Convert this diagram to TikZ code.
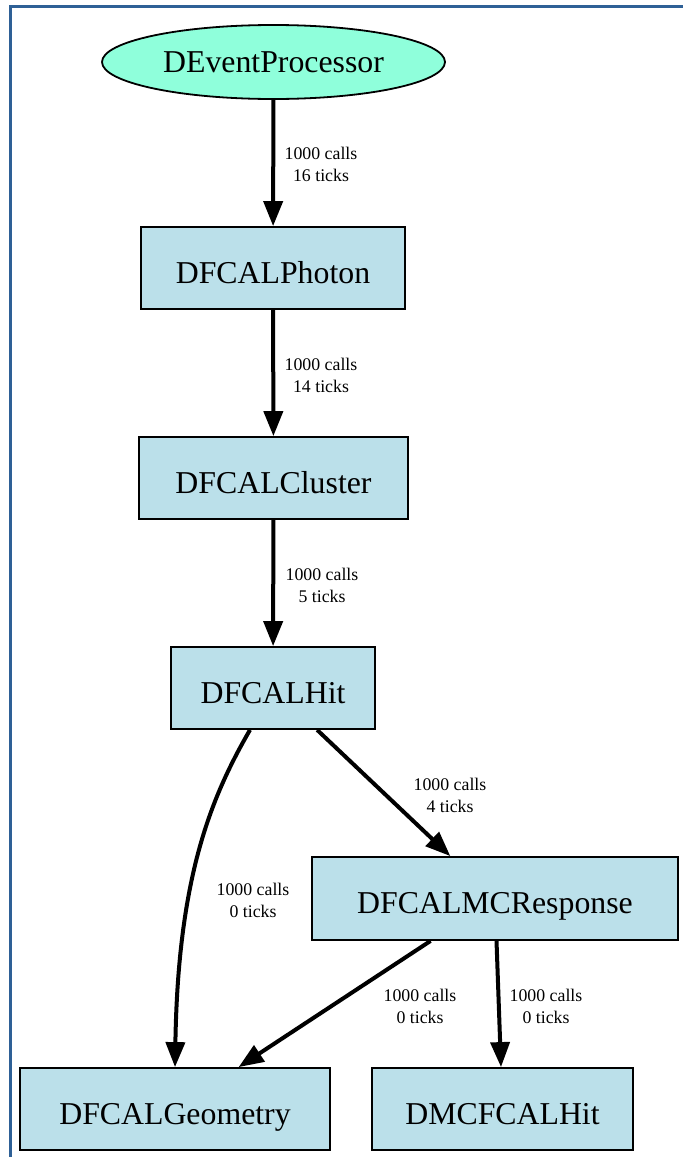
\documentclass[tikz,border=0pt]{standalone}
\usepackage{fontspec}
\setmainfont{Liberation Serif}
\usepackage{xcolor}
\usetikzlibrary{arrows.meta,shapes.geometric}
\definecolor{framblue}{RGB}{46,96,150}
\definecolor{boxblue}{RGB}{187,224,234}
\definecolor{procgreen}{RGB}{143,255,219}

\begin{document}
\begin{tikzpicture}[x=0.5pt,y=-0.5pt,
    fac/.style={draw, line width=0.9pt, fill=boxblue, minimum height=41pt, inner sep=0pt,
                text height=15pt, text depth=0pt, font=\fontsize{15.9}{19}\selectfont},
    proc/.style={draw, ellipse, line width=0.9pt, fill=procgreen, minimum width=171.5pt,
                 minimum height=37pt, inner sep=0pt, font=\fontsize{15.9}{19}\selectfont},
    calls/.style={align=center, inner sep=0pt, font=\fontsize{8.9}{11}\selectfont},
    dep/.style={line width=2pt, -{Triangle[length=12.5pt,width=9.5pt]}}]
                \useasboundingbox (0,0) rectangle (683,1157);
                \clip (0,0) rectangle (683,1157);
                \draw[framblue, line width=1.5pt](10,6) rectangle (720,1200);
                % factories
                \node[proc] (evproc) at (273.5,62) {DEventProcessor};
                \node[fac, minimum width=132pt] (photon) at (273,268) {DFCALPhoton};
                \node[fac, minimum width=134.5pt] (cluster) at (273.5,478) {DFCALCluster};
                \node[fac, minimum width=102pt] (hit) at (273,688) {DFCALHit};
                \node[fac, minimum width=183pt, minimum height=41.5pt] (mcresp) at (495,898.5) {DFCALMCResponse};
                \node[fac, minimum width=155pt] (geom) at (175,1109) {DFCALGeometry};
                \node[fac, minimum width=130.5pt] (mchit) at (502.5,1109) {DMCFCALHit};
                % calls between them
                \draw[dep](evproc) -- (photon);
                \draw[dep](photon) -- (cluster);
                \draw[dep](cluster) -- (hit);
                \draw[dep](hit) -- (mcresp);
                \draw[dep]([xshift=-11.5pt]hit.south) .. controls +(-40,69) and +(3,-188) .. (geom.north);
                \draw[dep](mcresp) -- (geom);
                \draw[dep](mcresp) -- (mchit);
                \node[calls] (c1) at (321,164) {1000 calls\\16 ticks};
                \node[calls] (c2) at (321,375) {1000 calls\\14 ticks};
                \node[calls] (c3) at (322,585) {1000 calls\\5 ticks};
                \node[calls] (c4) at (450,795) {1000 calls\\4 ticks};
                \node[calls] (c5) at (253,900) {1000 calls\\0 ticks};
                \node[calls] (c6) at (420,1006) {1000 calls\\0 ticks};
                \node[calls] (c7) at (546,1006) {1000 calls\\0 ticks};
            \end{tikzpicture}
\end{document}
